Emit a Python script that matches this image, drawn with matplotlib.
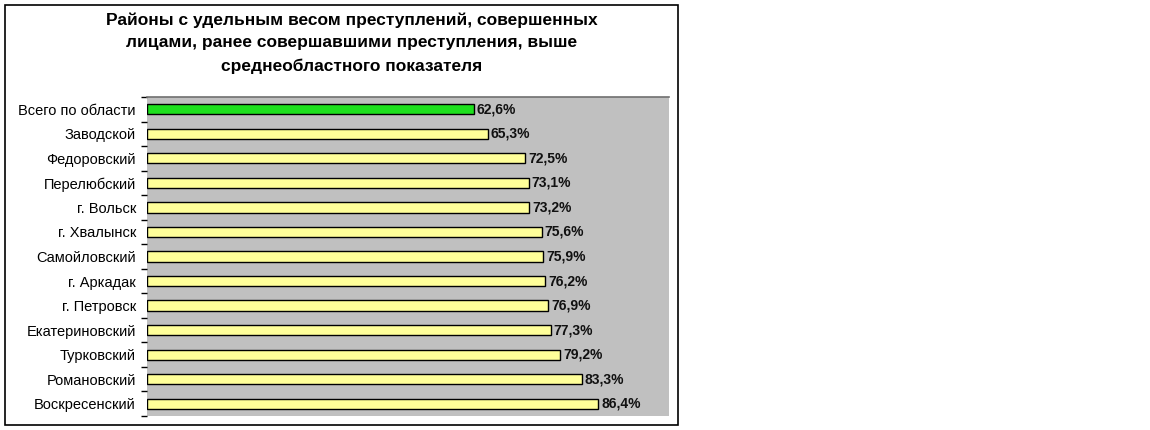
import matplotlib.pyplot as plt
from matplotlib.patches import Rectangle
import numpy as np

plt.rcParams['font.family'] = ['Liberation Sans', 'DejaVu Sans']

# данные
districts = ['Всего по области', 'Заводской', 'Федоровский', 'Перелюбский',
             'г. Вольск', 'г. Хвалынск', 'Самойловский', 'г. Аркадак',
             'г. Петровск', 'Екатериновский', 'Турковский', 'Романовский',
             'Воскресенский']
values = [62.6, 65.3, 72.5, 73.1, 73.2, 75.6, 75.9, 76.2, 76.9, 77.3, 79.2,
          83.3, 86.4]
bar_colors = ['#1ee01e'] + ['#ffff99'] * (len(values) - 1)

title = ('Районы с удельным весом преступлений, совершенных\n'
         'лицами, ранее совершавшими преступления, выше\n'
         'среднеобластного показателя')

fig = plt.figure(figsize=(11.5, 4.3), dpi=100)
fig.patch.set_facecolor('white')

# рамка диаграммы
fig.patches.append(Rectangle((5 / 1150, 5 / 430), 673 / 1150, 420 / 430,
                             transform=fig.transFigure, fill=False,
                             edgecolor='black', linewidth=1.2))

ax = fig.add_axes([147 / 1150, 14 / 430, 522 / 1150, 319 / 430])
ax.set_facecolor('#c0c0c0')

y = np.arange(len(values))
ax.barh(y, values, height=0.42, color=bar_colors, edgecolor='black',
        linewidth=1)

for yi, v in zip(y, values):
    ax.text(v + 0.6, yi, f'{v:.1f}%'.replace('.', ','), va='center',
            ha='left', fontsize=10, fontweight='bold', color='#111111')

ax.set_xlim(0, 100)
ax.set_ylim(len(values) - 0.5, -0.5)
ax.set_xticks([])
ax.set_yticks(y)
ax.set_yticklabels(districts, fontsize=10.5)
ax.set_yticks(np.arange(len(values) + 1) - 0.5, minor=True)
ax.tick_params(axis='y', which='major', length=0, pad=8)
ax.tick_params(axis='y', which='minor', length=4, width=1, color='black')

for side in ['left', 'right', 'bottom']:
    ax.spines[side].set_visible(False)
ax.spines['top'].set_color('#707070')
ax.spines['top'].set_linewidth(1.2)

fig.text(352 / 1150, 1 - 43 / 430, title, ha='center', va='center',
         fontsize=12.5, fontweight='bold', linespacing=1.65)

fig.savefig('out.png', dpi=100)
